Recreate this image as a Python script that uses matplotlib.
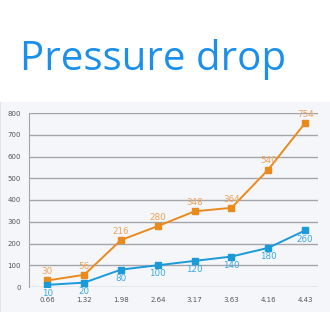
import matplotlib
matplotlib.use("Agg")
import matplotlib.pyplot as plt
from matplotlib.patches import Rectangle

categories = ["0.66", "1.32", "1.98", "2.64", "3.17", "3.63", "4.16", "4.43"]
orange_vals = [30, 56, 216, 280, 348, 364, 540, 754]
blue_vals = [10, 20, 80, 100, 120, 140, 180, 260]
yticks = [0, 100, 200, 300, 400, 500, 600, 700, 800]

ORANGE = "#ea8a1c"
ORANGE_TXT = "#f0a255"
BLUE = "#1a9ad8"
BLUE_TXT = "#3aa9e2"

fig = plt.figure(figsize=(3.3, 3.3), dpi=100)
fig.patch.set_facecolor("white")
fig.add_artist(Rectangle((0.004, 18 / 330), 1.0, 210 / 330, transform=fig.transFigure,
                         facecolor="#f4f6fa", edgecolor="none", zorder=0))
fig.add_artist(Rectangle((0.0, 18 / 330), 0.004, 210 / 330, transform=fig.transFigure,
                         facecolor="#e2e4ea", edgecolor="none", zorder=0))

fig.text(20 / 330, 1 - 70 / 330, "Pressure drop", family="Open Sans", fontsize=29,
         color="#1a8fec", ha="left", va="baseline")

ax = fig.add_axes([29 / 330, 43 / 330, 289 / 330, 174 / 330])
ax.set_facecolor("none")
x = list(range(len(categories)))
ax.plot(x, orange_vals, color=ORANGE, lw=1.4, marker="s", ms=5, zorder=3)
ax.plot(x, blue_vals, color=BLUE, lw=1.4, marker="s", ms=5, zorder=3)
for i, v in enumerate(orange_vals):
    ax.annotate(str(v), (i, v), xytext=(0, 3), textcoords="offset points",
                ha="center", va="bottom", fontsize=6.3, color=ORANGE_TXT, zorder=4)
for i, v in enumerate(blue_vals):
    ax.annotate(str(v), (i, v), xytext=(0, -3), textcoords="offset points",
                ha="center", va="top", fontsize=6.3, color=BLUE_TXT, zorder=4)

ax.set_xlim(-0.5, 7.35)
ax.set_ylim(0, 800)
ax.set_yticks(yticks)
ax.set_xticks(x)
ax.set_xticklabels(categories)
ax.grid(axis="y", color="#a3a5ab", lw=1.0)
ax.set_axisbelow(True)
for s in ["top", "right", "bottom"]:
    ax.spines[s].set_visible(False)
ax.spines["left"].set_color("#a3a5ab")
ax.tick_params(axis="both", length=0, labelsize=5, colors="#555555")
ax.tick_params(axis="y", pad=6)
ax.tick_params(axis="x", pad=7)

fig.savefig("out.png", dpi=100, facecolor="white")
